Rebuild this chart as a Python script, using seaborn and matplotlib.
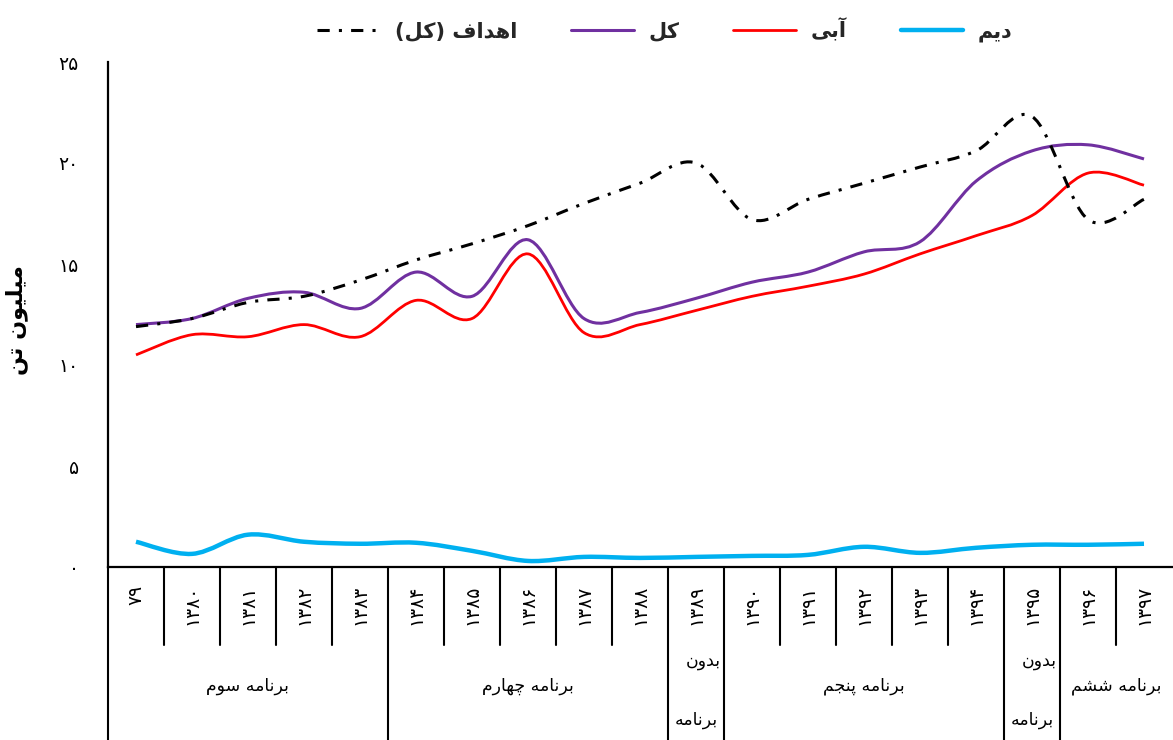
import numpy as np
import pandas as pd
import matplotlib
matplotlib.use("Agg")
import matplotlib.pyplot as plt
import matplotlib.transforms as mtransforms
from matplotlib.path import Path
from matplotlib.patches import PathPatch
from matplotlib.lines import Line2D
import seaborn as sns

# ---------------- data ----------------
years = ['۷۹', '۱۳۸۰', '۱۳۸۱', '۱۳۸۲', '۱۳۸۳', '۱۳۸۴', '۱۳۸۵', '۱۳۸۶', '۱۳۸۷', '۱۳۸۸',
         '۱۳۸۹', '۱۳۹۰', '۱۳۹۱', '۱۳۹۲', '۱۳۹۳', '۱۳۹۴', '۱۳۹۵', '۱۳۹۶', '۱۳۹۷']
target = [11.9, 12.3, 13.1, 13.4, 14.2, 15.2, 16.0, 16.9, 18.0, 19.0,
          20.0, 17.2, 18.2, 19.0, 19.8, 20.6, 22.3, 17.2, 18.2]
total = [12.0, 12.3, 13.3, 13.6, 12.8, 14.6, 13.4, 16.2, 12.3, 12.6,
         13.3, 14.1, 14.6, 15.6, 16.1, 19.1, 20.6, 20.9, 20.2]
irrigated = [10.5, 11.5, 11.4, 12.0, 11.4, 13.2, 12.3, 15.5, 11.6, 12.0,
             12.7, 13.4, 13.9, 14.5, 15.5, 16.4, 17.4, 19.5, 18.9]
rainfed = [1.25, 0.65, 1.6, 1.25, 1.15, 1.2, 0.8, 0.3, 0.5, 0.45,
           0.5, 0.55, 0.6, 1.0, 0.7, 0.95, 1.1, 1.1, 1.15]
series_names = ['اهداف (کل)', 'کل', 'آبی', 'دیم']
y_ticks = [0, 5, 10, 15, 20, 25]
y_tick_labels = ['۰', '۵', '۱۰', '۱۵', '۲۰', '۲۵']
y_title = 'میلیون تن'
groups = ['برنامه سوم', 'برنامه چهارم', 'بدون برنامه', 'برنامه پنجم', 'بدون برنامه', 'برنامه ششم']
group_sizes = [5, 5, 1, 5, 1, 2]

# ---------------- Persian shaping (presentation forms, visual order) ----------------
FORMS = {
    'ا': ('\uFE8D', '\uFE8E', None, None),
    'آ': ('\uFE81', '\uFE82', None, None),
    'ب': ('\uFE8F', '\uFE90', '\uFE91', '\uFE92'),
    'پ': ('\uFB56', '\uFB57', '\uFB58', '\uFB59'),
    'ت': ('\uFE95', '\uFE96', '\uFE97', '\uFE98'),
    'ج': ('\uFE9D', '\uFE9E', '\uFE9F', '\uFEA0'),
    'چ': ('\uFB7A', '\uFB7B', '\uFB7C', '\uFB7D'),
    'د': ('\uFEA9', '\uFEAA', None, None),
    'ر': ('\uFEAD', '\uFEAE', None, None),
    'س': ('\uFEB1', '\uFEB2', '\uFEB3', '\uFEB4'),
    'ش': ('\uFEB5', '\uFEB6', '\uFEB7', '\uFEB8'),
    'ف': ('\uFED1', '\uFED2', '\uFED3', '\uFED4'),
    'ک': ('\uFB8E', '\uFB8F', '\uFB90', '\uFB91'),
    'ل': ('\uFEDD', '\uFEDE', '\uFEDF', '\uFEE0'),
    'م': ('\uFEE1', '\uFEE2', '\uFEE3', '\uFEE4'),
    'ن': ('\uFEE5', '\uFEE6', '\uFEE7', '\uFEE8'),
    'و': ('\uFEED', '\uFEEE', None, None),
    'ه': ('\uFEE9', '\uFEEA', '\uFEEB', '\uFEEC'),
    'ی': ('\uFBFC', '\uFBFD', '\uFBFE', '\uFBFF'),
}


def _dual(c):
    return c in FORMS and FORMS[c][2] is not None


def shape(text):
    out = []
    for i, c in enumerate(text):
        if c not in FORMS:
            out.append(c)
            continue
        prev = text[i - 1] if i > 0 else ''
        nxt = text[i + 1] if i + 1 < len(text) else ''
        jp = _dual(prev)
        jn = _dual(c) and nxt in FORMS
        iso, fin, ini, med = FORMS[c]
        if jp and jn:
            out.append(med)
        elif jp:
            out.append(fin)
        elif jn:
            out.append(ini)
        else:
            out.append(iso)
    vis = ''.join(reversed(out))
    return vis.translate(str.maketrans('()', ')('))


# ---------------- figure ----------------
sns.set_theme(style="white")
plt.rcParams['font.family'] = ['DejaVu Sans']

W, H = 1173, 740
fig = plt.figure(figsize=(W / 100, H / 100), dpi=100)
ax_left, ax_right, ax_top, ax_bottom = 108, 1172, 62, 567
ax = fig.add_axes([ax_left / W, (H - ax_bottom) / H,
                   (ax_right - ax_left) / W, (ax_bottom - ax_top) / H])
ax_h = ax_bottom - ax_top

x = np.arange(len(years))
df = pd.DataFrame({'x': x, 'target': target, 'total': total,
                   'irrigated': irrigated, 'rainfed': rainfed})

styles = [
    ('rainfed', '#00B0F0', 3.2, '-'),
    ('irrigated', '#FF0000', 2.0, '-'),
    ('total', '#7030A0', 2.2, '-'),
    ('target', '#000000', 2.2, (0, (4, 3, 1, 3))),
]


def smooth_path(pts):
    pts = np.asarray(pts, dtype=float)
    n = len(pts)
    verts = [pts[0]]
    codes = [Path.MOVETO]
    for i in range(n - 1):
        p0 = pts[i - 1] if i > 0 else pts[i]
        p1 = pts[i]
        p2 = pts[i + 1]
        p3 = pts[i + 2] if i + 2 < n else pts[i + 1]
        verts += [p1 + (p2 - p0) / 6.0, p2 - (p3 - p1) / 6.0, p2]
        codes += [Path.CURVE4] * 3
    return Path(verts, codes)


for col, color, lw, ls in styles:
    n_before = len(ax.lines)
    sns.lineplot(data=df, x='x', y=col, color=color, linewidth=lw,
                 estimator=None, sort=False, ax=ax)
    line = ax.lines[n_before]
    patch = PathPatch(smooth_path(line.get_xydata()), facecolor='none',
                      edgecolor=color, linewidth=lw, linestyle=ls,
                      capstyle='butt', joinstyle='round', zorder=3)
    ax.add_patch(patch)
    line.set_visible(False)

ax.set_xlim(-0.5, len(years) - 0.5)
ax.set_ylim(0, 25)
ax.set_xlabel('')
ax.set_ylabel('')

ax.set_yticks(y_ticks)
ax.set_yticklabels(y_tick_labels)
ax.tick_params(axis='y', length=0, pad=21, labelsize=13.5, colors='black')
ax.set_xticks(x)
ax.set_xticklabels(years, rotation=90)
ax.tick_params(axis='x', length=0, pad=13, labelsize=13.5, colors='black')

for s in ['top', 'right']:
    ax.spines[s].set_visible(False)
for s in ['left', 'bottom']:
    ax.spines[s].set_color('black')
    ax.spines[s].set_linewidth(1.6)

ax.set_ylabel(shape(y_title), fontsize=16, fontweight='bold', color='black')
ax.yaxis.set_label_coords(-(ax_left - 28) / (ax_right - ax_left), (ax_bottom - 320) / ax_h)

# table-like separators below the axis
trans = mtransforms.blended_transform_factory(ax.transData, ax.transAxes)
short_y = -(645 - ax_bottom) / ax_h
long_y = -(H - ax_bottom + 2) / ax_h
pos = -0.5
bounds = [pos]
spans = []
for g, s in zip(groups, group_sizes):
    for k in range(1, s):
        ax.plot([pos + k, pos + k], [0, short_y], transform=trans, color='black',
                lw=1.5, clip_on=False)
    spans.append((pos, pos + s))
    pos += s
    if pos < len(years) - 0.5:
        bounds.append(pos)
for b in bounds:
    ax.plot([b, b], [0, long_y], transform=trans, color='black', lw=1.5, clip_on=False)

for g, (a, b) in zip(groups, spans):
    words = g.split(' ')
    c = (a + b) / 2.0
    if g.startswith('بدون'):
        ax.text(b - 0.06, -(661 - ax_bottom) / ax_h, shape(words[0]), transform=trans,
                ha='right', va='center', fontsize=12.5, color='black')
        ax.text(c, -(720 - ax_bottom) / ax_h, shape(words[1]), transform=trans,
                ha='center', va='center', fontsize=12.5, color='black')
    else:
        ax.text(c, -(686 - ax_bottom) / ax_h, shape(g), transform=trans,
                ha='center', va='center', fontsize=12.5, color='black')

# legend
handles = [
    Line2D([], [], color='#000000', lw=2.2, linestyle=(0, (4, 3, 1, 3))),
    Line2D([], [], color='#7030A0', lw=2.2),
    Line2D([], [], color='#FF0000', lw=2.0),
    Line2D([], [], color='#00B0F0', lw=3.2),
]
fig.legend(handles, [shape(n) for n in series_names], loc='center',
           bbox_to_anchor=(665 / W, 1 - 30 / H), ncol=4, frameon=False,
           prop={'weight': 'bold', 'size': 15}, handlelength=3.0,
           columnspacing=2.6, handletextpad=0.7)

fig.savefig('out.png', dpi=100, facecolor='white')
